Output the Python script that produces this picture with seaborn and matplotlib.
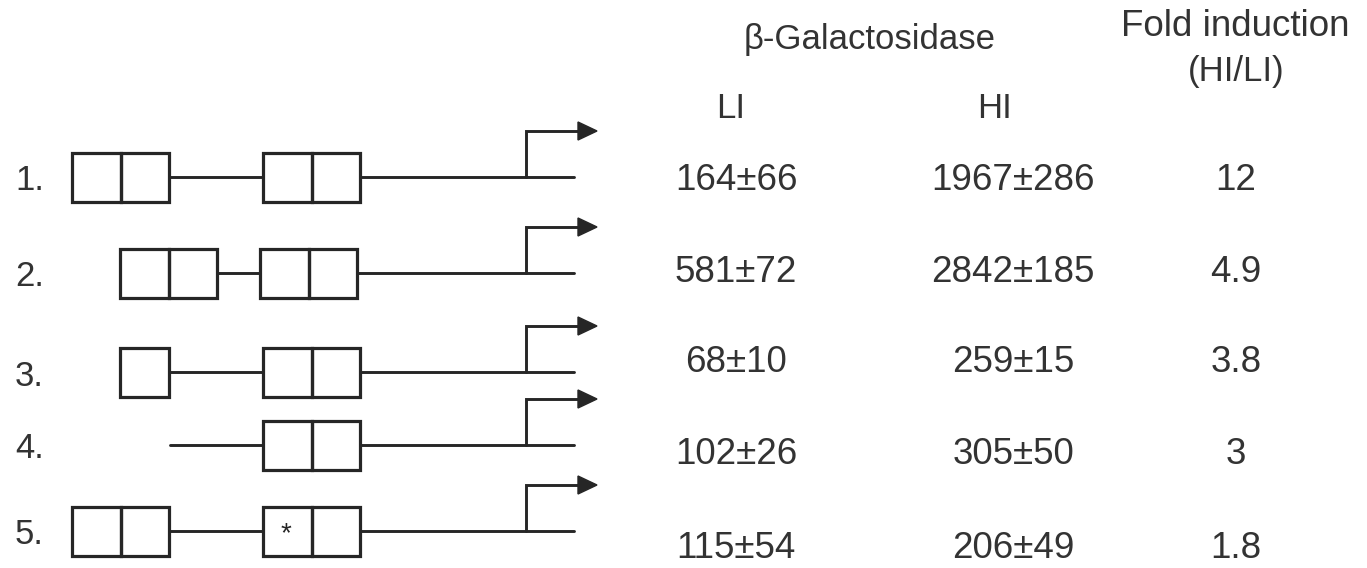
"""
Promoter constructs and beta-galactosidase activity (LI / HI), with fold induction.
"""

import pandas as pd
import matplotlib.pyplot as plt
from matplotlib.patches import Rectangle, Polygon
import seaborn as sns

# construct rows
construct_labels = ['1.', '2.', '3.', '4.', '5.']
# upstream element: number of half-sites (0 = deleted) and its left end
upstream_sites = [2, 2, 1, 0, 2]
upstream_start = [72, 120, 120, 170, 72]
# proximal element left end (always two half-sites)
proximal_start = [263, 260, 263, 263, 263]
# construct 5 carries a mutated half-site
mutated = [False, False, False, False, True]

# beta-galactosidase activity
li_mean = [164, 581, 68, 102, 115]
li_sd = [66, 72, 10, 26, 54]
hi_mean = [1967, 2842, 259, 305, 206]
hi_sd = [286, 185, 15, 50, 49]
fold_induction = ['12', '4.9', '3.8', '3', '1.8']

# layout (pixel-like coordinates of the figure)
row_y = [177, 273, 372, 445, 531]
text_y = [180, 272, 363, 455, 548]
site_w = 48.5
site_h = 49
line_end = 574
promoter_x = 526
arrow_rise = 46

INK = '#262626'
TEXT = '#333333'

sns.set_theme(style='white')
plt.rcParams['font.family'] = ['Liberation Sans', 'DejaVu Sans']

fig = plt.figure(figsize=(13.67, 5.68), dpi=100)
ax = fig.add_axes([0, 0, 1, 1])

# DNA backbone segments, drawn with seaborn
segs = []
for i, y in enumerate(row_y):
    if upstream_sites[i] > 0:
        x0 = upstream_start[i] + upstream_sites[i] * site_w
    else:
        x0 = upstream_start[i]
    segs.append((f'{i}a', x0, y))
    segs.append((f'{i}a', proximal_start[i], y))
    segs.append((f'{i}b', proximal_start[i] + 2 * site_w, y))
    segs.append((f'{i}b', line_end, y))
seg_df = pd.DataFrame(segs, columns=['seg', 'x', 'y'])
sns.lineplot(data=seg_df, x='x', y='y', units='seg', estimator=None, sort=False,
             color=INK, lw=2.1, ax=ax, legend=False)
ax.set_xlim(0, 1367)
ax.set_ylim(568, 0)
ax.axis('off')


def draw_sites(x0, yc, n, star=False):
    for k in range(n):
        ax.add_patch(Rectangle((x0 + k * site_w, yc - site_h / 2), site_w, site_h,
                               fill=False, ec=INK, lw=2.3, zorder=3))
    if star:
        ax.text(x0 + site_w * 0.47, yc + 3, '*', ha='center', va='center',
                fontsize=20, color=INK, zorder=4)


for i, y in enumerate(row_y):
    ax.text(15, y + 4, construct_labels[i], ha='left', va='center',
            fontsize=25, color=TEXT)
    if upstream_sites[i] > 0:
        draw_sites(upstream_start[i], y, upstream_sites[i])
    draw_sites(proximal_start[i], y, 2, star=mutated[i])

    # transcription start arrow
    top = y - arrow_rise
    ax.plot([promoter_x, promoter_x, 580], [y, top, top], color=INK, lw=2.1,
            solid_joinstyle='miter', zorder=3)
    ax.add_patch(Polygon([[578, top - 9], [597, top], [578, top + 9]],
                         closed=True, fc=INK, ec=INK, lw=1, zorder=3))

# table
col_li, col_hi, col_fold = 736, 1013, 1236
ax.text(870, 40, 'β-Galactosidase', ha='center', va='center', fontsize=25, color=TEXT)
ax.text(1235, 27, 'Fold induction', ha='center', va='center', fontsize=26.5, color=TEXT)
ax.text(col_fold, 72, '(HI/LI)', ha='center', va='center', fontsize=25, color=TEXT)
ax.text(731, 108, 'LI', ha='center', va='center', fontsize=25, color=TEXT)
ax.text(994, 108, 'HI', ha='center', va='center', fontsize=25, color=TEXT)

for i, y in enumerate(text_y):
    ax.text(col_li, y, f'{li_mean[i]}±{li_sd[i]}', ha='center', va='center',
            fontsize=26.5, color=TEXT)
    ax.text(col_hi, y, f'{hi_mean[i]}±{hi_sd[i]}', ha='center', va='center',
            fontsize=26.5, color=TEXT)
    ax.text(col_fold, y, fold_induction[i], ha='center', va='center',
            fontsize=26.5, color=TEXT)

fig.savefig('out.png', dpi=100, facecolor='white')
